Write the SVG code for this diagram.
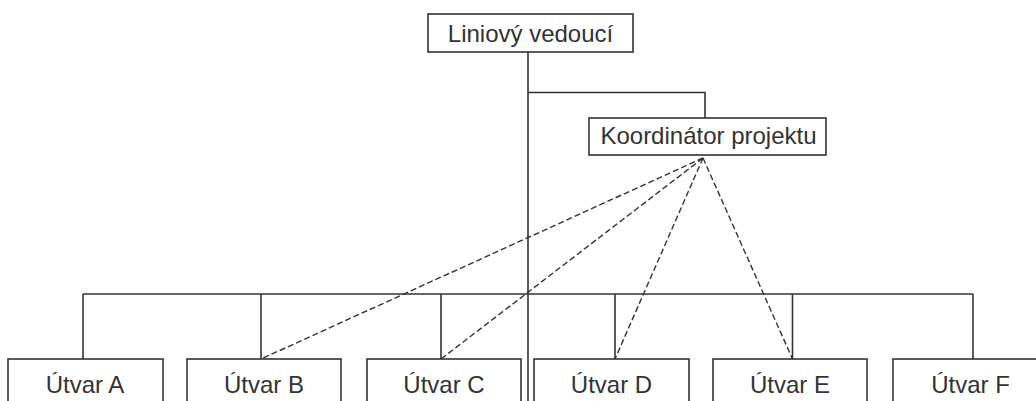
<svg xmlns="http://www.w3.org/2000/svg" width="1036" height="401" viewBox="0 0 1036 401">
  <style>
    .box { fill: #ffffff; stroke: #333333; stroke-width: 1.6; }
    .lbl { font-family: "Liberation Sans", Arial, sans-serif; font-size: 24px; fill: #333333; text-anchor: middle; }
    .line { fill: none; stroke: #333333; stroke-width: 1.6; }
    .dash { fill: none; stroke: #333333; stroke-width: 1.4; stroke-dasharray: 6 3; }
  </style>
  <rect width="1036" height="401" fill="#ffffff"/>

  <!-- solid reporting lines and dashed coordination lines -->
  <g id="connectors">
    <path class="line" d="M528,52 V401"/>
    <path class="line" d="M528,92.5 H705 V118"/>
    <path class="line" d="M83,294 H973"/>
    <path class="line" d="M83,294 V359 M261,294 V359 M441,294 V359 M615,294 V359 M792.5,294 V359 M973,294 V359"/>
    <path class="dash" d="M703,158 L261,359"/>
    <path class="dash" d="M703,158 L441,359"/>
    <path class="dash" d="M703,158 L615,359"/>
    <path class="dash" d="M703,158 L792.5,359"/>
  </g>

  <g id="liniovy-vedouci">
    <rect class="box" x="428" y="14" width="205" height="38"/>
    <text class="lbl" x="530.5" y="42">Liniový vedoucí</text>
  </g>

  <g id="koordinator-projektu">
    <rect class="box" x="589" y="118" width="237" height="37"/>
    <text class="lbl" x="708.5" y="144">Koordinátor projektu</text>
  </g>

  <g id="utvar-a">
    <rect class="box" x="8" y="359" width="155" height="60"/>
    <text class="lbl" x="85" y="393">Útvar A</text>
  </g>
  <g id="utvar-b">
    <rect class="box" x="187" y="359" width="154" height="60"/>
    <text class="lbl" x="264" y="393">Útvar B</text>
  </g>
  <g id="utvar-c">
    <rect class="box" x="367" y="359" width="154" height="60"/>
    <text class="lbl" x="444" y="393">Útvar C</text>
  </g>
  <g id="utvar-d">
    <rect class="box" x="534" y="359" width="155" height="60"/>
    <text class="lbl" x="611.5" y="393">Útvar D</text>
  </g>
  <g id="utvar-e">
    <rect class="box" x="713" y="359" width="154" height="60"/>
    <text class="lbl" x="790" y="393">Útvar E</text>
  </g>
  <g id="utvar-f">
    <rect class="box" x="893" y="359" width="155" height="60"/>
    <text class="lbl" x="970.5" y="393">Útvar F</text>
  </g>
</svg>
